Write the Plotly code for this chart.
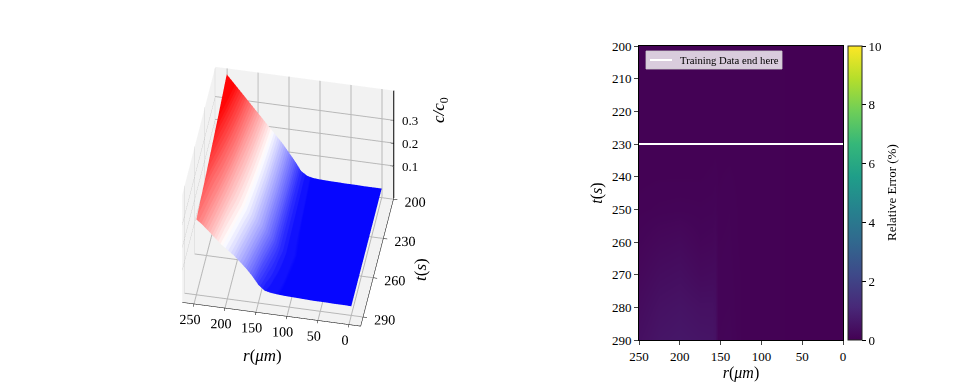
import plotly.graph_objects as go

FONT = "Liberation Serif"
W, H, PAGE = 946, 374, 8


def px(x):
    return (x - PAGE) / W


def py(y):
    return 1 - (y - PAGE) / H


# Left panel: concentration surface
r_um = [250, 240, 230, 220, 210, 200, 190, 180, 170, 160, 150, 140, 130, 120, 110, 100, 90, 80, 70, 60, 50, 40, 30, 20, 10, 0]
t_s = [200, 230, 260, 290]
c_t200 = [.41, .38, .35, .32, .29, .26, .23, .2, .17, .14, .105, .07, .03, .012, .006, .004, .003, .002, .002, .001, .001, .001, 0, 0, 0, 0]
c_t230 = [.365, .34, .315, .29, .26, .235, .21, .185, .16, .13, .1, .065, .03, .014, .008, .005, .004, .003, .002, .002, .001, .001, .001, 0, 0, 0]
c_t260 = [.325, .30, .28, .255, .23, .21, .19, .17, .145, .12, .09, .06, .03, .016, .01, .007, .005, .004, .003, .002, .002, .001, .001, .001, 0, 0]
c_t290 = [.29, .27, .245, .22, .195, .175, .155, .13, .105, .075, .04, .018, .012, .009, .007, .006, .005, .004, .003, .002, .002, .002, .001, .001, .001, 0]
c_surface = [c_t200, c_t230, c_t260, c_t290]
r_ticks = [0, 50, 100, 150, 200, 250]
t_ticks = [200, 230, 260, 290]
c_ticks = [0.1, 0.2, 0.3]
r_range = [-19, 269]
t_range = [199, 297]
c_range = [-0.04, 0.43]

# Right panel: relative error map
err_r = [250, 225, 200, 175, 160, 157, 153, 140, 125, 100, 50, 0]
err_t = [200, 230, 240, 250, 260, 270, 280, 290]
err_z = [
    [.02, .02, .02, .02, .02, .02, .02, .02, .03, .02, .01, .01],
    [.03, .03, .03, .03, .03, .03, .03, .03, .03, .02, .01, .01],
    [.03, .04, .04, .04, .05, .06, .04, .05, .03, .02, .01, .01],
    [.06, .08, .09, .08, .09, .11, .05, .07, .03, .02, .01, .01],
    [.12, .20, .24, .14, .16, .19, .07, .08, .03, .02, .01, .01],
    [.20, .33, .38, .26, .28, .28, .08, .09, .04, .02, .01, .01],
    [.30, .46, .52, .44, .44, .39, .09, .10, .04, .02, .01, .01],
    [.40, .56, .62, .56, .54, .48, .10, .12, .04, .02, .01, .01],
]
line_t = 230
line_label = "Training Data end here"
err_t_ticks = [200, 210, 220, 230, 240, 250, 260, 270, 280, 290]
err_r_ticks = [250, 200, 150, 100, 50, 0]
cbar_ticks = [0, 2, 4, 6, 8, 10]

# Stepped blue-white-red scale (facets of the original surface)
n = 44
stepped = []
for i in range(n):
    u = (i + 0.5) / n
    if u < 0.5:
        v = round(255 * u * 2)
        col = f"rgb({v},{v},255)"
    else:
        v = round(255 * (1 - u) * 2)
        col = f"rgb(255,{v},{v})"
    stepped += [[i / n, col], [(i + 1) / n, col]]

fig = go.Figure()
fig.add_trace(go.Surface(
    x=r_um, y=t_s, z=c_surface, surfacecolor=c_surface, cmin=0, cmax=0.38,
    colorscale=stepped, showscale=False, hoverinfo="skip",
    lighting=dict(ambient=1, diffuse=0, specular=0, roughness=1, fresnel=0),
))

# z axis drawn on the back-right edge
zx, zy, zz = [r_range[0], r_range[0], None], [t_range[0], t_range[0], None], [c_range[0], c_range[1], None]
for c in c_ticks:
    zx += [r_range[0], r_range[0] + 5, None]
    zy += [t_range[0], t_range[0], None]
    zz += [c, c, None]
fig.add_trace(go.Scatter3d(x=zx, y=zy, z=zz, mode="lines", line=dict(color="black", width=2),
                           showlegend=False, hoverinfo="skip"))

fig.add_trace(go.Heatmap(
    x=err_r, y=err_t, z=err_z, zmin=0, zmax=10, zsmooth="best", colorscale="Viridis",
    xaxis="x", yaxis="y", showlegend=False, hoverinfo="skip",
    colorbar=dict(
        x=px(848), xanchor="left", y=py(193), yanchor="middle", len=294 / H, lenmode="fraction",
        thickness=14, thicknessmode="pixels", xpad=0, ypad=0,
        tickvals=cbar_ticks, ticks="outside", ticklen=4, tickcolor="black",
        outlinecolor="#222", outlinewidth=1,
        tickfont=dict(family=FONT, size=13, color="black"),
    ),
))
fig.add_trace(go.Scatter(
    x=[250, 0], y=[line_t, line_t], mode="lines", name=line_label, showlegend=False,
    line=dict(color="white", width=2), xaxis="x", yaxis="y", hoverinfo="skip",
))

scene_axis = dict(
    backgroundcolor="#f2f2f2", showbackground=True, gridcolor="#b8b8b8", gridwidth=2,
    zeroline=False, showspikes=False, ticks="outside", tickcolor="black", ticklen=4,
    linecolor="black", showline=True, tickangle=0,
    tickfont=dict(family=FONT, size=13, color="black"),
)
fig.update_layout(
    width=W, height=H, autosize=False, paper_bgcolor="white", plot_bgcolor="white",
    margin=dict(l=0, r=0, t=0, b=0),
    font=dict(family=FONT, color="black"),
    showlegend=False,
    xaxis=dict(
        domain=[px(639), px(843)], range=[250, 0], tickvals=err_r_ticks, ticks="outside", ticklen=4,
        automargin=False,
        showgrid=False, zeroline=False, showline=True, linecolor="black", mirror=True,
        tickfont=dict(family=FONT, size=13, color="black"),
        title=dict(text="<i>r</i>(<i>μm</i>)", font=dict(family=FONT, size=16, color="black")),
    ),
    yaxis=dict(
        domain=[py(340), py(46)], range=[290, 200], tickvals=err_t_ticks, ticks="outside", ticklen=4,
        automargin=False,
        showgrid=False, zeroline=False, showline=True, linecolor="black", mirror=True,
        tickfont=dict(family=FONT, size=13, color="black"),
        title=dict(text="<i>t</i>(<i>s</i>)", font=dict(family=FONT, size=16, color="black"), standoff=5),
    ),
    scene=dict(
        domain=dict(x=[0.076, 0.516], y=[0.01, 0.98]),
        aspectmode="manual", aspectratio=dict(x=1.0, y=1.0, z=0.85),
        camera=dict(eye=dict(x=-0.256, y=1.38, z=1.45), up=dict(x=0, y=0, z=1), center=dict(x=0, y=0, z=0),
                    projection=dict(type="orthographic")),
        xaxis=dict(scene_axis, range=r_range, tickvals=r_ticks, title=dict(text="")),
        yaxis=dict(scene_axis, range=t_range, tickvals=t_ticks, title=dict(text="")),
        zaxis=dict(scene_axis, range=c_range, tickvals=c_ticks, title=dict(text=""),
                   showline=False, ticks="", showticklabels=False),
        annotations=[
            dict(x=r_range[0], y=t_range[0], z=c, text=str(c), showarrow=False, xanchor="left", xshift=6,
                 font=dict(family=FONT, size=13, color="black"))
            for c in c_ticks
        ],
    ),
    shapes=[
        dict(type="rect", xref="paper", yref="paper", x0=px(646), x1=px(782), y0=py(69), y1=py(51),
             fillcolor="rgba(255,255,255,0.8)", line=dict(color="rgba(204,204,204,0.8)", width=1)),
        dict(type="line", xref="paper", yref="paper", x0=px(650), x1=px(672), y0=py(60), y1=py(60),
             line=dict(color="white", width=2)),
    ],
    annotations=[
        dict(xref="paper", yref="paper", x=px(680), y=py(60), text=line_label, showarrow=False, xanchor="left",
             yanchor="middle", xshift=-2, font=dict(family=FONT, size=10.7, color="black")),
        dict(xref="paper", yref="paper", x=px(262), y=py(355), text="<i>r</i>(<i>μm</i>)", showarrow=False,
             xanchor="center", yanchor="middle", font=dict(family=FONT, size=17, color="black")),
        dict(xref="paper", yref="paper", x=px(420), y=py(270), text="<i>t</i>(<i>s</i>)", showarrow=False, textangle=-90,
             xanchor="center", yanchor="middle", font=dict(family=FONT, size=17, color="black")),
        dict(xref="paper", yref="paper", x=px(440), y=py(110), text="<i>c/c</i><sub>0</sub>", showarrow=False, textangle=-90,
             xanchor="center", yanchor="middle", font=dict(family=FONT, size=17, color="black")),
        dict(xref="paper", yref="paper", x=px(891), y=py(193), text="Relative Error (%)", showarrow=False, textangle=-90,
             xanchor="center", yanchor="middle", font=dict(family=FONT, size=13, color="black")),
    ],
)
fig.write_html("out.html")
